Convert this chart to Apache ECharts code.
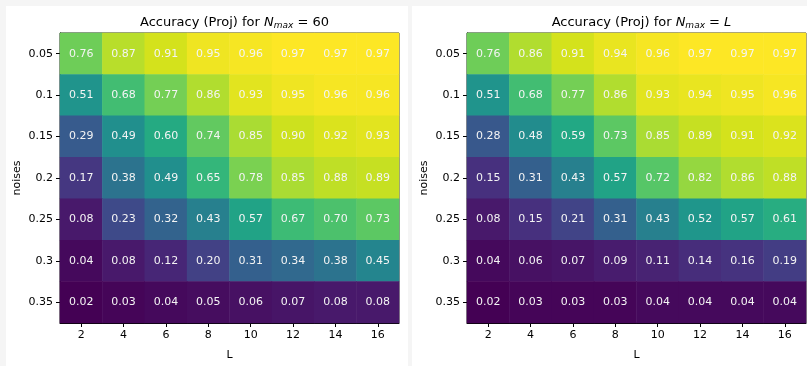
<!DOCTYPE html>
<html>
<head>
<meta charset="utf-8">
<script src="https://cdn.jsdelivr.net/npm/echarts@6/dist/echarts.min.js"></script>
<style>
html,body{margin:0;padding:0;background:#f5f5f5;}
#c{width:807px;height:366px;}
</style>
</head>
<body>
<div id="c"></div>
<script>
const Ls = ['2','4','6','8','10','12','14','16'];
const noises = ['0.05','0.1','0.15','0.2','0.25','0.3','0.35'];
// rows correspond to noises (top to bottom), columns to L
const accNmax60 = [
  [0.76,0.87,0.91,0.95,0.96,0.97,0.97,0.97],
  [0.51,0.68,0.77,0.86,0.93,0.95,0.96,0.96],
  [0.29,0.49,0.60,0.74,0.85,0.90,0.92,0.93],
  [0.17,0.38,0.49,0.65,0.78,0.85,0.88,0.89],
  [0.08,0.23,0.32,0.43,0.57,0.67,0.70,0.73],
  [0.04,0.08,0.12,0.20,0.31,0.34,0.38,0.45],
  [0.02,0.03,0.04,0.05,0.06,0.07,0.08,0.08]
];
const accNmaxL = [
  [0.76,0.86,0.91,0.94,0.96,0.97,0.97,0.97],
  [0.51,0.68,0.77,0.86,0.93,0.94,0.95,0.96],
  [0.28,0.48,0.59,0.73,0.85,0.89,0.91,0.92],
  [0.15,0.31,0.43,0.57,0.72,0.82,0.86,0.88],
  [0.08,0.15,0.21,0.31,0.43,0.52,0.57,0.61],
  [0.04,0.06,0.07,0.09,0.11,0.14,0.16,0.19],
  [0.02,0.03,0.03,0.03,0.04,0.04,0.04,0.04]
];
const viridis = ['#440154','#481a6c','#472f7d','#414487','#39568c','#31688e','#2a788e','#23888e',
                 '#1f988b','#22a884','#35b779','#54c568','#7ad151','#a5db36','#d2e21b','#fde725'];

function toData(m){
  const out=[];
  m.forEach((row,r)=>row.forEach((v,c)=>out.push([c,r,v])));
  return out;
}
function range(m){
  const f=m.flat();
  return [Math.min(...f),Math.max(...f)];
}
const FONT='DejaVu Sans';
const grids=[{left:60,top:33,width:339,height:296},{left:467,top:33,width:339,height:296}];
const titleRich={
  n:{fontFamily:FONT,fontSize:13,fontWeight:'normal',color:'#000'},
  i:{fontFamily:FONT,fontSize:13,fontWeight:'normal',fontStyle:'italic',color:'#000'},
  s:{fontFamily:FONT,fontSize:9,fontWeight:'normal',fontStyle:'italic',color:'#000',padding:[6,0,0,0]}
};
const chart=echarts.init(document.getElementById('c'),null,{renderer:'canvas'});
function xAx(i){return {type:'category',gridIndex:i,data:Ls,name:'L',nameLocation:'middle',nameGap:27,
  nameTextStyle:{fontFamily:FONT,fontSize:11,color:'#000'},
  axisLine:{show:true,lineStyle:{color:'#000',width:1}},
  axisTick:{show:true,alignWithLabel:true,length:4,lineStyle:{color:'#000'}},
  axisLabel:{fontFamily:FONT,fontSize:11,color:'#000',margin:7},splitLine:{show:false}};}
function yAx(i){return {type:'category',gridIndex:i,data:noises,inverse:true,name:'noises',nameLocation:'middle',nameGap:37,
  nameTextStyle:{fontFamily:FONT,fontSize:11,color:'#000'},
  axisLine:{show:true,lineStyle:{color:'#000',width:1}},
  axisTick:{show:true,alignWithLabel:true,length:4,lineStyle:{color:'#000'}},
  axisLabel:{fontFamily:FONT,fontSize:11,color:'#000',margin:7},splitLine:{show:false}};}
const r1=range(accNmax60), r2=range(accNmaxL);
chart.setOption({
  backgroundColor:'#f5f5f5',
  animation:false,
  graphic:[
    {type:'rect',shape:{x:6,y:6,width:402,height:360},style:{fill:'#fff'},z:-10},
    {type:'rect',shape:{x:412,y:6,width:395,height:360},style:{fill:'#fff'},z:-10}
  ],
  title:[
    {text:'{n|Accuracy (Proj) for }{i|N}{s|max}{n| = 60}',left:229.5,textAlign:'center',top:10,textStyle:{fontWeight:'normal',rich:titleRich}},
    {text:'{n|Accuracy (Proj) for }{i|N}{s|max}{n| = }{i|L}',left:636.5,textAlign:'center',top:10,textStyle:{fontWeight:'normal',rich:titleRich}}
  ],
  grid:grids.map(g=>Object.assign({show:true,borderColor:'#222',borderWidth:1,backgroundColor:'transparent'},g)),
  xAxis:[xAx(0),xAx(1)],
  yAxis:[yAx(0),yAx(1)],
  visualMap:[
    {show:false,seriesIndex:0,min:r1[0],max:r1[1],dimension:2,inRange:{color:viridis}},
    {show:false,seriesIndex:1,min:r2[0],max:r2[1],dimension:2,inRange:{color:viridis}}
  ],
  series:[
    {type:'heatmap',xAxisIndex:0,yAxisIndex:0,data:toData(accNmax60),
     label:{show:true,color:'#f4f4f4',fontFamily:FONT,fontSize:11,formatter:p=>p.value[2].toFixed(2)},
     itemStyle:{borderWidth:0}},
    {type:'heatmap',xAxisIndex:1,yAxisIndex:1,data:toData(accNmaxL),
     label:{show:true,color:'#f4f4f4',fontFamily:FONT,fontSize:11,formatter:p=>p.value[2].toFixed(2)},
     itemStyle:{borderWidth:0}}
  ]
});
</script>
</body>
</html>
